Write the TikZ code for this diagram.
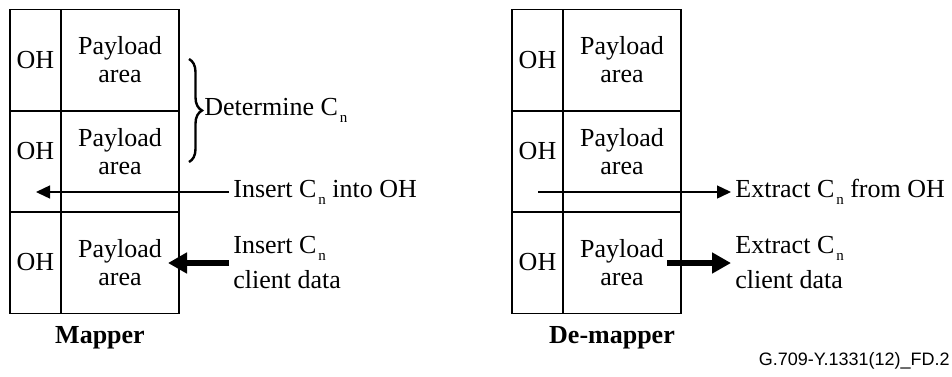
\documentclass[tikz,border=0pt]{standalone}
\usepackage{fontspec}
\setmainfont{Liberation Serif}
\setsansfont{Liberation Sans}
\usetikzlibrary{arrows.meta, positioning, decorations.pathreplacing}

\newcommand{\Cn}{C\kern1pt\raisebox{-3.5pt}{\fontsize{7.5}{8}\selectfont n}}

\begin{document}
\begin{tikzpicture}[
    x=0.5pt, y=-0.5pt,
    font=\fontsize{13}{14}\selectfont,
    every node/.style={inner sep=0pt},
    oh/.style={draw, line width=0.7pt, minimum width=25.5pt, minimum height=50.7pt},
    payload/.style={draw, line width=0.7pt, minimum width=59pt, minimum height=50.7pt, align=center},
    midtext/.style={shift={(0,5pt)}, align=center},
    note/.style={align=left, font=\fontsize{13}{17.5}\selectfont},
    title/.style={font=\fontsize{13}{14}\selectfont\bfseries},
    thinarrow/.style={line width=0.7pt, -{Triangle[length=7pt, width=6.5pt]}},
    thickarrow/.style={line width=3pt, -{Triangle[length=9.5pt, width=10pt]}}
]
\useasboundingbox (0,0) rectangle (952,376);

% Mapper
\node[oh] (m1oh) at (35.5, 60) {OH};
\node[payload] (m1pl) at (120, 60) {Payload\\area};
\node[oh, label={[midtext]center:OH}] (m2oh) at (35.5, 161.5) {};
\node[payload, label={[midtext]center:Payload\\area}] (m2pl) at (120, 161.5) {};
\node[oh] (m3oh) at (35.5, 262.5) {OH};
\node[payload] (m3pl) at (120, 262.5) {Payload\\area};
\node[title] (mapper) at (100, 338) {Mapper};

% De-mapper
\node[oh] (d1oh) at (537.5, 60) {OH};
\node[payload] (d1pl) at (622, 60) {Payload\\area};
\node[oh, label={[midtext]center:OH}] (d2oh) at (537.5, 161.5) {};
\node[payload, label={[midtext]center:Payload\\area}] (d2pl) at (622, 161.5) {};
\node[oh] (d3oh) at (537.5, 262.5) {OH};
\node[payload] (d3pl) at (622, 262.5) {Payload\\area};
\node[title] (demapper) at (612, 338) {De-mapper};

% Labels
\node[anchor=west] (determine) at (204, 110) {Determine \Cn};
\node[anchor=west] (insoh) at (233, 192) {Insert \Cn{} into OH};
\node[note, anchor=west] (insdata) at (233, 263) {Insert \Cn\\client data};
\node[anchor=west] (extoh) at (735, 192) {Extract \Cn{} from OH};
\node[note, anchor=west] (extdata) at (735, 263) {Extract \Cn\\client data};
\node[anchor=east, font=\sffamily\fontsize{9}{10}\selectfont] (figid) at (950, 361) {G.709-Y.1331(12)\_FD.2};

% Arrow ends
\coordinate (m2tip) at (36, 192);
\coordinate (m3tip) at (168, 263);
\coordinate (d2tail) at (538, 192);
\coordinate (d3tail) at (667, 263);

% Brace
\draw[line width=1.2pt, decorate, decoration={brace, amplitude=6.5pt}] (189, 59) -- (189, 162);

% Arrows
\draw[thinarrow] ([xshift=-2pt]insoh.west) -- (m2tip);
\draw[thickarrow] ([xshift=-2pt]insdata.west) -- (m3tip);
\draw[thinarrow] (d2tail) -- ([xshift=-2pt]extoh.west);
\draw[thickarrow] (d3tail) -- ([xshift=-2pt]extdata.west);

\end{tikzpicture}
\end{document}
